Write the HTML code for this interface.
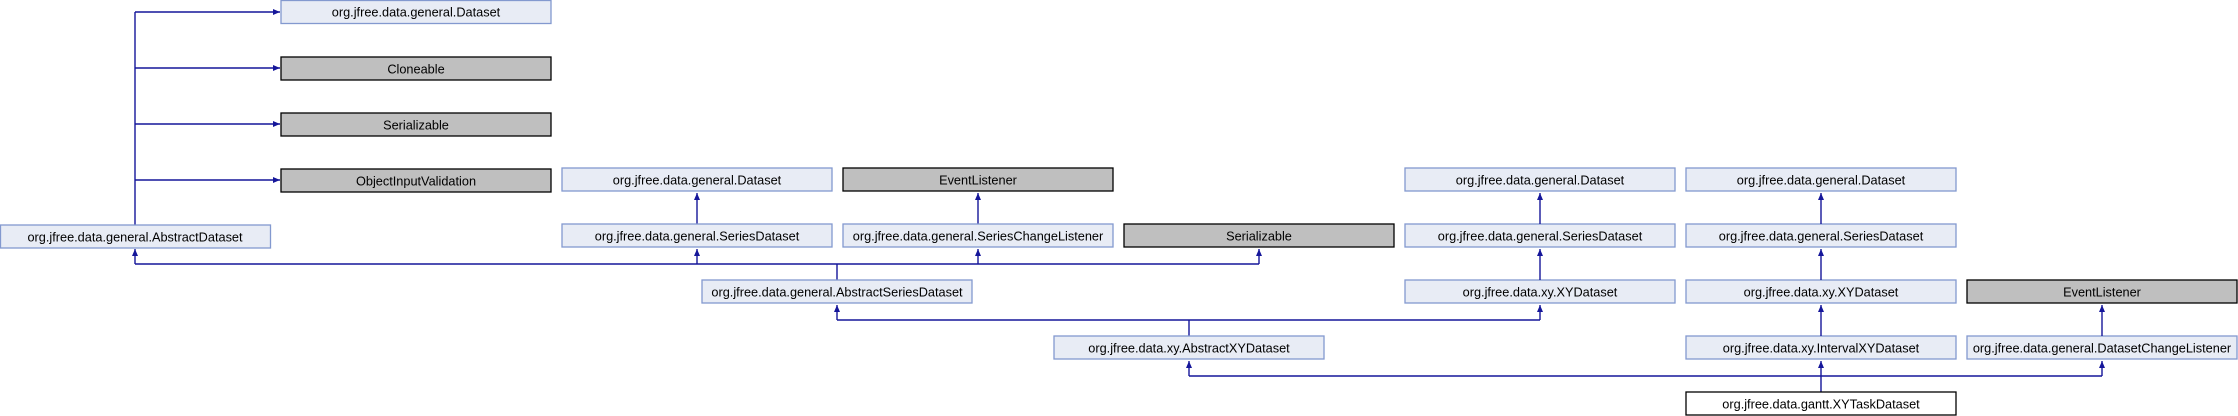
<!DOCTYPE html>
<html><head><meta charset="utf-8"><style>
html,body{margin:0;padding:0;background:#fff;}
svg{display:block;}
text{font-family:"Liberation Sans",Arial,sans-serif;font-size:13px;fill:#000;text-anchor:middle;transform-box:fill-box;transform-origin:center;transform:scaleX(0.98);}
.b{fill:#e8ecf5;stroke:#8399cf;stroke-width:1.3;}
.g{fill:#bfbfbf;stroke:#000;stroke-width:1.3;}
.w{fill:#fff;stroke:#000;stroke-width:1.3;}
.l{stroke:#15169a;stroke-width:1.4;fill:none;}
.a{fill:#15169a;}
</style></head><body>
<svg width="2238" height="416" viewBox="0 0 2238 416" xmlns="http://www.w3.org/2000/svg">
<defs>
<marker id="ar" markerWidth="8" markerHeight="8" refX="7" refY="4" orient="auto" markerUnits="userSpaceOnUse">
<path d="M0,1 L7,4 L0,7 Z" class="a"/></marker>
</defs>
<path class="l" d="M135,225 V12"/>
<path class="l" d="M135,12 H280" marker-end="url(#ar)"/>
<path class="l" d="M135,68 H280" marker-end="url(#ar)"/>
<path class="l" d="M135,124 H280" marker-end="url(#ar)"/>
<path class="l" d="M135,180 H280" marker-end="url(#ar)"/>
<rect class="b" x="281" y="0.5" width="270" height="23"/><text x="416" y="16.5">org.jfree.data.general.Dataset</text>
<rect class="g" x="281" y="57" width="270" height="23"/><text x="416" y="73.5">Cloneable</text>
<rect class="g" x="281" y="113" width="270" height="23"/><text x="416" y="129.5">Serializable</text>
<rect class="g" x="281" y="169" width="270" height="23"/><text x="416" y="185.5">ObjectInputValidation</text>
<rect class="b" x="0.5" y="225" width="270" height="23"/><text x="135" y="241.5">org.jfree.data.general.AbstractDataset</text>

<path class="l" d="M697,224 V193" marker-end="url(#ar)"/>
<path class="l" d="M978,224 V193" marker-end="url(#ar)"/>
<rect class="b" x="562" y="168" width="270" height="23"/><text x="697" y="184.5">org.jfree.data.general.Dataset</text>
<rect class="g" x="843" y="168" width="270" height="23"/><text x="978" y="184.5">EventListener</text>
<rect class="b" x="562" y="224" width="270" height="23"/><text x="697" y="240.5">org.jfree.data.general.SeriesDataset</text>
<rect class="b" x="843" y="224" width="270" height="23"/><text x="978" y="240.5">org.jfree.data.general.SeriesChangeListener</text>
<rect class="g" x="1124" y="224" width="270" height="23"/><text x="1259" y="240.5">Serializable</text>
<path class="l" d="M837,280 V264 M135,264 H1259"/>
<path class="l" d="M135,264 V249" marker-end="url(#ar)"/>
<path class="l" d="M697,264 V249" marker-end="url(#ar)"/>
<path class="l" d="M978,264 V249" marker-end="url(#ar)"/>
<path class="l" d="M1259,264 V249" marker-end="url(#ar)"/>
<rect class="b" x="702" y="280" width="270" height="23"/><text x="837" y="296.5">org.jfree.data.general.AbstractSeriesDataset</text>

<rect class="b" x="1405" y="168" width="270" height="23"/><text x="1540" y="184.5">org.jfree.data.general.Dataset</text>
<rect class="b" x="1405" y="224" width="270" height="23"/><text x="1540" y="240.5">org.jfree.data.general.SeriesDataset</text>
<rect class="b" x="1405" y="280" width="270" height="23"/><text x="1540" y="296.5">org.jfree.data.xy.XYDataset</text>
<path class="l" d="M1540,224 V193" marker-end="url(#ar)"/>
<path class="l" d="M1540,280 V249" marker-end="url(#ar)"/>
<rect class="b" x="1686" y="168" width="270" height="23"/><text x="1821" y="184.5">org.jfree.data.general.Dataset</text>
<rect class="b" x="1686" y="224" width="270" height="23"/><text x="1821" y="240.5">org.jfree.data.general.SeriesDataset</text>
<rect class="b" x="1686" y="280" width="270" height="23"/><text x="1821" y="296.5">org.jfree.data.xy.XYDataset</text>
<rect class="b" x="1686" y="336" width="270" height="23"/><text x="1821" y="352.5">org.jfree.data.xy.IntervalXYDataset</text>
<path class="l" d="M1821,224 V193" marker-end="url(#ar)"/>
<path class="l" d="M1821,280 V249" marker-end="url(#ar)"/>
<path class="l" d="M1821,336 V305" marker-end="url(#ar)"/>
<rect class="g" x="1967" y="280" width="270" height="23"/><text x="2102" y="296.5">EventListener</text>
<rect class="b" x="1967" y="336" width="270" height="23"/><text x="2102" y="352.5">org.jfree.data.general.DatasetChangeListener</text>
<path class="l" d="M2102,336 V305" marker-end="url(#ar)"/>

<path class="l" d="M1189,336 V320 M837,320 H1540"/>
<path class="l" d="M837,320 V305" marker-end="url(#ar)"/>
<path class="l" d="M1540,320 V305" marker-end="url(#ar)"/>
<rect class="b" x="1054" y="336" width="270" height="23"/><text x="1189" y="352.5">org.jfree.data.xy.AbstractXYDataset</text>

<path class="l" d="M1821,392 V376 M1189,376 H2102"/>
<path class="l" d="M1189,376 V361" marker-end="url(#ar)"/>
<path class="l" d="M1821,376 V361" marker-end="url(#ar)"/>
<path class="l" d="M2102,376 V361" marker-end="url(#ar)"/>
<rect class="w" x="1686" y="392" width="270" height="23"/><text x="1821" y="408.5">org.jfree.data.gantt.XYTaskDataset</text>
</svg>
</body></html>
